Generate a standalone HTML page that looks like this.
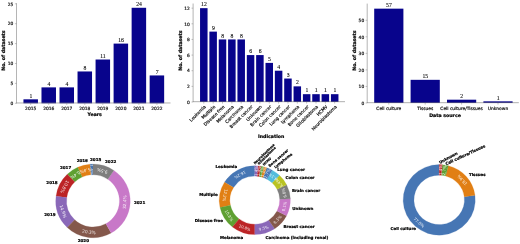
<!DOCTYPE html>
<html><head><meta charset="utf-8"><title>Figure</title>
<style>html,body{margin:0;padding:0;background:#fff}svg{display:block;will-change:transform}</style></head>
<body><svg width="520" height="244" viewBox="0 0 520 244">
<rect x="0" y="0" width="520" height="244" fill="#fff"/>
<g opacity="0.999">
<rect x="23.45" y="99.32" width="14.5" height="3.98" fill="#08048c"/>
<rect x="41.48" y="87.38" width="14.5" height="15.92" fill="#08048c"/>
<rect x="59.51" y="87.38" width="14.5" height="15.92" fill="#08048c"/>
<rect x="77.54" y="71.46" width="14.5" height="31.84" fill="#08048c"/>
<rect x="95.57" y="59.52" width="14.5" height="43.78" fill="#08048c"/>
<rect x="113.6" y="43.6" width="14.5" height="59.7" fill="#08048c"/>
<rect x="131.63" y="7.78" width="14.5" height="95.52" fill="#08048c"/>
<rect x="149.66" y="75.44" width="14.5" height="27.86" fill="#08048c"/>
<line x1="16.5" y1="3.2" x2="16.5" y2="103.3" stroke="#787878" stroke-width="0.55"/>
<line x1="16.23" y1="102.98" x2="170.5" y2="102.98" stroke="#787878" stroke-width="0.6"/>
<line x1="14.9" y1="103.3" x2="16.5" y2="103.3" stroke="#787878" stroke-width="0.45"/>
<text x="13.3" y="105.03" font-family="DejaVu Sans, Liberation Sans, sans-serif" font-size="4.4" text-anchor="end" fill="#222" stroke="#222" stroke-width="0.22">0</text>
<line x1="14.9" y1="83.4" x2="16.5" y2="83.4" stroke="#787878" stroke-width="0.45"/>
<text x="13.3" y="85.13" font-family="DejaVu Sans, Liberation Sans, sans-serif" font-size="4.4" text-anchor="end" fill="#222" stroke="#222" stroke-width="0.22">5</text>
<line x1="14.9" y1="63.5" x2="16.5" y2="63.5" stroke="#787878" stroke-width="0.45"/>
<text x="13.3" y="65.23" font-family="DejaVu Sans, Liberation Sans, sans-serif" font-size="4.4" text-anchor="end" fill="#222" stroke="#222" stroke-width="0.22">10</text>
<line x1="14.9" y1="43.6" x2="16.5" y2="43.6" stroke="#787878" stroke-width="0.45"/>
<text x="13.3" y="45.33" font-family="DejaVu Sans, Liberation Sans, sans-serif" font-size="4.4" text-anchor="end" fill="#222" stroke="#222" stroke-width="0.22">15</text>
<line x1="14.9" y1="23.7" x2="16.5" y2="23.7" stroke="#787878" stroke-width="0.45"/>
<text x="13.3" y="25.43" font-family="DejaVu Sans, Liberation Sans, sans-serif" font-size="4.4" text-anchor="end" fill="#222" stroke="#222" stroke-width="0.22">20</text>
<line x1="14.9" y1="3.8" x2="16.5" y2="3.8" stroke="#787878" stroke-width="0.45"/>
<text x="13.3" y="5.53" font-family="DejaVu Sans, Liberation Sans, sans-serif" font-size="4.4" text-anchor="end" fill="#222" stroke="#222" stroke-width="0.22">25</text>
<line x1="30.7" y1="103.3" x2="30.7" y2="104.9" stroke="#787878" stroke-width="0.45"/>
<line x1="48.73" y1="103.3" x2="48.73" y2="104.9" stroke="#787878" stroke-width="0.45"/>
<line x1="66.76" y1="103.3" x2="66.76" y2="104.9" stroke="#787878" stroke-width="0.45"/>
<line x1="84.79" y1="103.3" x2="84.79" y2="104.9" stroke="#787878" stroke-width="0.45"/>
<line x1="102.82" y1="103.3" x2="102.82" y2="104.9" stroke="#787878" stroke-width="0.45"/>
<line x1="120.85" y1="103.3" x2="120.85" y2="104.9" stroke="#787878" stroke-width="0.45"/>
<line x1="138.88" y1="103.3" x2="138.88" y2="104.9" stroke="#787878" stroke-width="0.45"/>
<line x1="156.91" y1="103.3" x2="156.91" y2="104.9" stroke="#787878" stroke-width="0.45"/>
<text x="30.85" y="97.92" font-family="Liberation Serif, DejaVu Serif, serif" font-size="5.7" text-anchor="middle" fill="#000" stroke="#000" stroke-width="0.09">1</text>
<text x="48.88" y="85.98" font-family="Liberation Serif, DejaVu Serif, serif" font-size="5.7" text-anchor="middle" fill="#000" stroke="#000" stroke-width="0.09">4</text>
<text x="66.91" y="85.98" font-family="Liberation Serif, DejaVu Serif, serif" font-size="5.7" text-anchor="middle" fill="#000" stroke="#000" stroke-width="0.09">4</text>
<text x="84.94" y="70.06" font-family="Liberation Serif, DejaVu Serif, serif" font-size="5.7" text-anchor="middle" fill="#000" stroke="#000" stroke-width="0.09">8</text>
<text x="102.97" y="58.12" font-family="Liberation Serif, DejaVu Serif, serif" font-size="5.7" text-anchor="middle" fill="#000" stroke="#000" stroke-width="0.09">11</text>
<text x="121" y="42.2" font-family="Liberation Serif, DejaVu Serif, serif" font-size="5.7" text-anchor="middle" fill="#000" stroke="#000" stroke-width="0.09">16</text>
<text x="139.03" y="6.38" font-family="Liberation Serif, DejaVu Serif, serif" font-size="5.7" text-anchor="middle" fill="#000" stroke="#000" stroke-width="0.09">24</text>
<text x="157.06" y="74.04" font-family="Liberation Serif, DejaVu Serif, serif" font-size="5.7" text-anchor="middle" fill="#000" stroke="#000" stroke-width="0.09">7</text>
<text x="30.7" y="109.7" font-family="DejaVu Sans, Liberation Sans, sans-serif" font-size="4.4" text-anchor="middle" fill="#222" stroke="#222" stroke-width="0.22">2015</text>
<text x="48.73" y="109.7" font-family="DejaVu Sans, Liberation Sans, sans-serif" font-size="4.4" text-anchor="middle" fill="#222" stroke="#222" stroke-width="0.22">2016</text>
<text x="66.76" y="109.7" font-family="DejaVu Sans, Liberation Sans, sans-serif" font-size="4.4" text-anchor="middle" fill="#222" stroke="#222" stroke-width="0.22">2017</text>
<text x="84.79" y="109.7" font-family="DejaVu Sans, Liberation Sans, sans-serif" font-size="4.4" text-anchor="middle" fill="#222" stroke="#222" stroke-width="0.22">2018</text>
<text x="102.82" y="109.7" font-family="DejaVu Sans, Liberation Sans, sans-serif" font-size="4.4" text-anchor="middle" fill="#222" stroke="#222" stroke-width="0.22">2019</text>
<text x="120.85" y="109.7" font-family="DejaVu Sans, Liberation Sans, sans-serif" font-size="4.4" text-anchor="middle" fill="#222" stroke="#222" stroke-width="0.22">2020</text>
<text x="138.88" y="109.7" font-family="DejaVu Sans, Liberation Sans, sans-serif" font-size="4.4" text-anchor="middle" fill="#222" stroke="#222" stroke-width="0.22">2021</text>
<text x="156.91" y="109.7" font-family="DejaVu Sans, Liberation Sans, sans-serif" font-size="4.4" text-anchor="middle" fill="#222" stroke="#222" stroke-width="0.22">2022</text>
<text x="94.7" y="115.8" font-family="DejaVu Sans, Liberation Sans, sans-serif" font-size="4.7" font-weight="bold" text-anchor="middle" fill="#000" stroke="#000" stroke-width="0.22">Years</text>
<text x="5.3" y="50.6" font-family="DejaVu Sans, Liberation Sans, sans-serif" font-size="4.7" font-weight="bold" text-anchor="middle" fill="#000" transform="rotate(-90 5.3 50.6)" stroke="#000" stroke-width="0.22">No. of datasets</text>
<rect x="200.05" y="8.16" width="7.5" height="93.84" fill="#08048c"/>
<rect x="209.4" y="31.62" width="7.5" height="70.38" fill="#08048c"/>
<rect x="218.75" y="39.44" width="7.5" height="62.56" fill="#08048c"/>
<rect x="228.1" y="39.44" width="7.5" height="62.56" fill="#08048c"/>
<rect x="237.45" y="39.44" width="7.5" height="62.56" fill="#08048c"/>
<rect x="246.8" y="55.08" width="7.5" height="46.92" fill="#08048c"/>
<rect x="256.15" y="55.08" width="7.5" height="46.92" fill="#08048c"/>
<rect x="265.5" y="62.9" width="7.5" height="39.1" fill="#08048c"/>
<rect x="274.85" y="70.72" width="7.5" height="31.28" fill="#08048c"/>
<rect x="284.2" y="78.54" width="7.5" height="23.46" fill="#08048c"/>
<rect x="293.55" y="86.36" width="7.5" height="15.64" fill="#08048c"/>
<rect x="302.9" y="94.18" width="7.5" height="7.82" fill="#08048c"/>
<rect x="312.25" y="94.18" width="7.5" height="7.82" fill="#08048c"/>
<rect x="321.6" y="94.18" width="7.5" height="7.82" fill="#08048c"/>
<rect x="330.95" y="94.18" width="7.5" height="7.82" fill="#08048c"/>
<line x1="193.1" y1="3.5" x2="193.1" y2="102" stroke="#787878" stroke-width="0.55"/>
<line x1="192.83" y1="101.68" x2="345" y2="101.68" stroke="#787878" stroke-width="0.6"/>
<line x1="191.5" y1="102" x2="193.1" y2="102" stroke="#787878" stroke-width="0.45"/>
<text x="189.8" y="103.73" font-family="DejaVu Sans, Liberation Sans, sans-serif" font-size="4.4" text-anchor="end" fill="#222" stroke="#222" stroke-width="0.22">0</text>
<line x1="191.5" y1="86.36" x2="193.1" y2="86.36" stroke="#787878" stroke-width="0.45"/>
<text x="189.8" y="88.09" font-family="DejaVu Sans, Liberation Sans, sans-serif" font-size="4.4" text-anchor="end" fill="#222" stroke="#222" stroke-width="0.22">2</text>
<line x1="191.5" y1="70.72" x2="193.1" y2="70.72" stroke="#787878" stroke-width="0.45"/>
<text x="189.8" y="72.45" font-family="DejaVu Sans, Liberation Sans, sans-serif" font-size="4.4" text-anchor="end" fill="#222" stroke="#222" stroke-width="0.22">4</text>
<line x1="191.5" y1="55.08" x2="193.1" y2="55.08" stroke="#787878" stroke-width="0.45"/>
<text x="189.8" y="56.81" font-family="DejaVu Sans, Liberation Sans, sans-serif" font-size="4.4" text-anchor="end" fill="#222" stroke="#222" stroke-width="0.22">6</text>
<line x1="191.5" y1="39.44" x2="193.1" y2="39.44" stroke="#787878" stroke-width="0.45"/>
<text x="189.8" y="41.17" font-family="DejaVu Sans, Liberation Sans, sans-serif" font-size="4.4" text-anchor="end" fill="#222" stroke="#222" stroke-width="0.22">8</text>
<line x1="191.5" y1="23.8" x2="193.1" y2="23.8" stroke="#787878" stroke-width="0.45"/>
<text x="189.8" y="25.53" font-family="DejaVu Sans, Liberation Sans, sans-serif" font-size="4.4" text-anchor="end" fill="#222" stroke="#222" stroke-width="0.22">10</text>
<line x1="191.5" y1="8.16" x2="193.1" y2="8.16" stroke="#787878" stroke-width="0.45"/>
<text x="189.8" y="9.89" font-family="DejaVu Sans, Liberation Sans, sans-serif" font-size="4.4" text-anchor="end" fill="#222" stroke="#222" stroke-width="0.22">12</text>
<line x1="203.8" y1="102" x2="203.8" y2="103.6" stroke="#787878" stroke-width="0.45"/>
<line x1="213.15" y1="102" x2="213.15" y2="103.6" stroke="#787878" stroke-width="0.45"/>
<line x1="222.5" y1="102" x2="222.5" y2="103.6" stroke="#787878" stroke-width="0.45"/>
<line x1="231.85" y1="102" x2="231.85" y2="103.6" stroke="#787878" stroke-width="0.45"/>
<line x1="241.2" y1="102" x2="241.2" y2="103.6" stroke="#787878" stroke-width="0.45"/>
<line x1="250.55" y1="102" x2="250.55" y2="103.6" stroke="#787878" stroke-width="0.45"/>
<line x1="259.9" y1="102" x2="259.9" y2="103.6" stroke="#787878" stroke-width="0.45"/>
<line x1="269.25" y1="102" x2="269.25" y2="103.6" stroke="#787878" stroke-width="0.45"/>
<line x1="278.6" y1="102" x2="278.6" y2="103.6" stroke="#787878" stroke-width="0.45"/>
<line x1="287.95" y1="102" x2="287.95" y2="103.6" stroke="#787878" stroke-width="0.45"/>
<line x1="297.3" y1="102" x2="297.3" y2="103.6" stroke="#787878" stroke-width="0.45"/>
<line x1="306.65" y1="102" x2="306.65" y2="103.6" stroke="#787878" stroke-width="0.45"/>
<line x1="316" y1="102" x2="316" y2="103.6" stroke="#787878" stroke-width="0.45"/>
<line x1="325.35" y1="102" x2="325.35" y2="103.6" stroke="#787878" stroke-width="0.45"/>
<line x1="334.7" y1="102" x2="334.7" y2="103.6" stroke="#787878" stroke-width="0.45"/>
<text x="203.95" y="6.26" font-family="Liberation Serif, DejaVu Serif, serif" font-size="5.7" text-anchor="middle" fill="#000" stroke="#000" stroke-width="0.09">12</text>
<text x="213.3" y="29.72" font-family="Liberation Serif, DejaVu Serif, serif" font-size="5.7" text-anchor="middle" fill="#000" stroke="#000" stroke-width="0.09">9</text>
<text x="222.65" y="37.54" font-family="Liberation Serif, DejaVu Serif, serif" font-size="5.7" text-anchor="middle" fill="#000" stroke="#000" stroke-width="0.09">8</text>
<text x="232" y="37.54" font-family="Liberation Serif, DejaVu Serif, serif" font-size="5.7" text-anchor="middle" fill="#000" stroke="#000" stroke-width="0.09">8</text>
<text x="241.35" y="37.54" font-family="Liberation Serif, DejaVu Serif, serif" font-size="5.7" text-anchor="middle" fill="#000" stroke="#000" stroke-width="0.09">8</text>
<text x="250.7" y="53.18" font-family="Liberation Serif, DejaVu Serif, serif" font-size="5.7" text-anchor="middle" fill="#000" stroke="#000" stroke-width="0.09">6</text>
<text x="260.05" y="53.18" font-family="Liberation Serif, DejaVu Serif, serif" font-size="5.7" text-anchor="middle" fill="#000" stroke="#000" stroke-width="0.09">6</text>
<text x="269.4" y="61" font-family="Liberation Serif, DejaVu Serif, serif" font-size="5.7" text-anchor="middle" fill="#000" stroke="#000" stroke-width="0.09">5</text>
<text x="278.75" y="68.82" font-family="Liberation Serif, DejaVu Serif, serif" font-size="5.7" text-anchor="middle" fill="#000" stroke="#000" stroke-width="0.09">4</text>
<text x="288.1" y="76.64" font-family="Liberation Serif, DejaVu Serif, serif" font-size="5.7" text-anchor="middle" fill="#000" stroke="#000" stroke-width="0.09">3</text>
<text x="297.45" y="84.46" font-family="Liberation Serif, DejaVu Serif, serif" font-size="5.7" text-anchor="middle" fill="#000" stroke="#000" stroke-width="0.09">2</text>
<text x="306.8" y="92.28" font-family="Liberation Serif, DejaVu Serif, serif" font-size="5.7" text-anchor="middle" fill="#000" stroke="#000" stroke-width="0.09">1</text>
<text x="316.15" y="92.28" font-family="Liberation Serif, DejaVu Serif, serif" font-size="5.7" text-anchor="middle" fill="#000" stroke="#000" stroke-width="0.09">1</text>
<text x="325.5" y="92.28" font-family="Liberation Serif, DejaVu Serif, serif" font-size="5.7" text-anchor="middle" fill="#000" stroke="#000" stroke-width="0.09">1</text>
<text x="334.85" y="92.28" font-family="Liberation Serif, DejaVu Serif, serif" font-size="5.7" text-anchor="middle" fill="#000" stroke="#000" stroke-width="0.09">1</text>
<g transform="translate(203.8 104.6) rotate(-45)"><text x="0" y="3.43" font-family="DejaVu Sans, Liberation Sans, sans-serif" font-size="4.4" text-anchor="end" fill="#222" stroke="#222" stroke-width="0.22">Leukemia</text></g>
<g transform="translate(213.15 104.6) rotate(-45)"><text x="0" y="3.43" font-family="DejaVu Sans, Liberation Sans, sans-serif" font-size="4.4" text-anchor="end" fill="#222" stroke="#222" stroke-width="0.22">Multiple</text></g>
<g transform="translate(222.5 104.6) rotate(-45)"><text x="0" y="3.43" font-family="DejaVu Sans, Liberation Sans, sans-serif" font-size="4.4" text-anchor="end" fill="#222" stroke="#222" stroke-width="0.22">Disease free</text></g>
<g transform="translate(231.85 104.6) rotate(-45)"><text x="0" y="3.43" font-family="DejaVu Sans, Liberation Sans, sans-serif" font-size="4.4" text-anchor="end" fill="#222" stroke="#222" stroke-width="0.22">Melanoma</text></g>
<g transform="translate(241.2 104.6) rotate(-45)"><text x="0" y="3.43" font-family="DejaVu Sans, Liberation Sans, sans-serif" font-size="4.4" text-anchor="end" fill="#222" stroke="#222" stroke-width="0.22">Carcinoma</text></g>
<g transform="translate(250.55 104.6) rotate(-45)"><text x="0" y="3.43" font-family="DejaVu Sans, Liberation Sans, sans-serif" font-size="4.4" text-anchor="end" fill="#222" stroke="#222" stroke-width="0.22">Breast cancer</text></g>
<g transform="translate(259.9 104.6) rotate(-45)"><text x="0" y="3.43" font-family="DejaVu Sans, Liberation Sans, sans-serif" font-size="4.4" text-anchor="end" fill="#222" stroke="#222" stroke-width="0.22">Unknown</text></g>
<g transform="translate(269.25 104.6) rotate(-45)"><text x="0" y="3.43" font-family="DejaVu Sans, Liberation Sans, sans-serif" font-size="4.4" text-anchor="end" fill="#222" stroke="#222" stroke-width="0.22">Brain cancer</text></g>
<g transform="translate(278.6 104.6) rotate(-45)"><text x="0" y="3.43" font-family="DejaVu Sans, Liberation Sans, sans-serif" font-size="4.4" text-anchor="end" fill="#222" stroke="#222" stroke-width="0.22">Colon cancer</text></g>
<g transform="translate(287.95 104.6) rotate(-45)"><text x="0" y="3.43" font-family="DejaVu Sans, Liberation Sans, sans-serif" font-size="4.4" text-anchor="end" fill="#222" stroke="#222" stroke-width="0.22">Lung cancer</text></g>
<g transform="translate(297.3 104.6) rotate(-45)"><text x="0" y="3.43" font-family="DejaVu Sans, Liberation Sans, sans-serif" font-size="4.4" text-anchor="end" fill="#222" stroke="#222" stroke-width="0.22">Lymphoma</text></g>
<g transform="translate(306.65 104.6) rotate(-45)"><text x="0" y="3.43" font-family="DejaVu Sans, Liberation Sans, sans-serif" font-size="4.4" text-anchor="end" fill="#222" stroke="#222" stroke-width="0.22">Bone cancer</text></g>
<g transform="translate(316 104.6) rotate(-45)"><text x="0" y="3.43" font-family="DejaVu Sans, Liberation Sans, sans-serif" font-size="4.4" text-anchor="end" fill="#222" stroke="#222" stroke-width="0.22">Glioblastoma</text></g>
<g transform="translate(325.35 104.6) rotate(-45)"><text x="0" y="3.43" font-family="DejaVu Sans, Liberation Sans, sans-serif" font-size="4.4" text-anchor="end" fill="#222" stroke="#222" stroke-width="0.22">HCMV</text></g>
<g transform="translate(334.7 104.6) rotate(-45)"><text x="0" y="3.43" font-family="DejaVu Sans, Liberation Sans, sans-serif" font-size="4.4" text-anchor="end" fill="#222" stroke="#222" stroke-width="0.22">Neuroblastoma</text></g>
<text x="271.2" y="137.6" font-family="DejaVu Sans, Liberation Sans, sans-serif" font-size="4.7" font-weight="bold" text-anchor="middle" fill="#000" stroke="#000" stroke-width="0.22">Indication</text>
<text x="182.4" y="50.6" font-family="DejaVu Sans, Liberation Sans, sans-serif" font-size="4.7" font-weight="bold" text-anchor="middle" fill="#000" transform="rotate(-90 182.4 50.6)" stroke="#000" stroke-width="0.22">No. of datasets</text>
<rect x="374.2" y="8.66" width="29.2" height="94.34" fill="#08048c"/>
<rect x="410.6" y="79.83" width="29.2" height="23.17" fill="#08048c"/>
<rect x="447" y="99.69" width="29.2" height="3.31" fill="#08048c"/>
<rect x="483.4" y="101.34" width="29.2" height="1.66" fill="#08048c"/>
<line x1="367.2" y1="3.6" x2="367.2" y2="103" stroke="#787878" stroke-width="0.55"/>
<line x1="366.93" y1="102.68" x2="518.8" y2="102.68" stroke="#787878" stroke-width="0.6"/>
<line x1="365.6" y1="103" x2="367.2" y2="103" stroke="#787878" stroke-width="0.45"/>
<text x="364.2" y="104.73" font-family="DejaVu Sans, Liberation Sans, sans-serif" font-size="4.4" text-anchor="end" fill="#222" stroke="#222" stroke-width="0.22">0</text>
<line x1="365.6" y1="86.45" x2="367.2" y2="86.45" stroke="#787878" stroke-width="0.45"/>
<text x="364.2" y="88.18" font-family="DejaVu Sans, Liberation Sans, sans-serif" font-size="4.4" text-anchor="end" fill="#222" stroke="#222" stroke-width="0.22">10</text>
<line x1="365.6" y1="69.9" x2="367.2" y2="69.9" stroke="#787878" stroke-width="0.45"/>
<text x="364.2" y="71.63" font-family="DejaVu Sans, Liberation Sans, sans-serif" font-size="4.4" text-anchor="end" fill="#222" stroke="#222" stroke-width="0.22">20</text>
<line x1="365.6" y1="53.35" x2="367.2" y2="53.35" stroke="#787878" stroke-width="0.45"/>
<text x="364.2" y="55.08" font-family="DejaVu Sans, Liberation Sans, sans-serif" font-size="4.4" text-anchor="end" fill="#222" stroke="#222" stroke-width="0.22">30</text>
<line x1="365.6" y1="36.8" x2="367.2" y2="36.8" stroke="#787878" stroke-width="0.45"/>
<text x="364.2" y="38.53" font-family="DejaVu Sans, Liberation Sans, sans-serif" font-size="4.4" text-anchor="end" fill="#222" stroke="#222" stroke-width="0.22">40</text>
<line x1="365.6" y1="20.25" x2="367.2" y2="20.25" stroke="#787878" stroke-width="0.45"/>
<text x="364.2" y="21.98" font-family="DejaVu Sans, Liberation Sans, sans-serif" font-size="4.4" text-anchor="end" fill="#222" stroke="#222" stroke-width="0.22">50</text>
<line x1="388.8" y1="103" x2="388.8" y2="104.6" stroke="#787878" stroke-width="0.45"/>
<line x1="425.2" y1="103" x2="425.2" y2="104.6" stroke="#787878" stroke-width="0.45"/>
<line x1="461.6" y1="103" x2="461.6" y2="104.6" stroke="#787878" stroke-width="0.45"/>
<line x1="498" y1="103" x2="498" y2="104.6" stroke="#787878" stroke-width="0.45"/>
<text x="388.95" y="7.16" font-family="Liberation Serif, DejaVu Serif, serif" font-size="5.7" text-anchor="middle" fill="#000" stroke="#000" stroke-width="0.09">57</text>
<text x="425.35" y="78.33" font-family="Liberation Serif, DejaVu Serif, serif" font-size="5.7" text-anchor="middle" fill="#000" stroke="#000" stroke-width="0.09">15</text>
<text x="461.75" y="98.19" font-family="Liberation Serif, DejaVu Serif, serif" font-size="5.7" text-anchor="middle" fill="#000" stroke="#000" stroke-width="0.09">2</text>
<text x="498.15" y="99.84" font-family="Liberation Serif, DejaVu Serif, serif" font-size="5.7" text-anchor="middle" fill="#000" stroke="#000" stroke-width="0.09">1</text>
<text x="388.8" y="109.6" font-family="DejaVu Sans, Liberation Sans, sans-serif" font-size="4.4" text-anchor="middle" fill="#222" stroke="#222" stroke-width="0.22">Cell culture</text>
<text x="425.2" y="109.6" font-family="DejaVu Sans, Liberation Sans, sans-serif" font-size="4.4" text-anchor="middle" fill="#222" stroke="#222" stroke-width="0.22">Tissues</text>
<text x="461.6" y="109.6" font-family="DejaVu Sans, Liberation Sans, sans-serif" font-size="4.4" text-anchor="middle" fill="#222" stroke="#222" stroke-width="0.22">Cell culture/Tissues</text>
<text x="498" y="109.6" font-family="DejaVu Sans, Liberation Sans, sans-serif" font-size="4.4" text-anchor="middle" fill="#222" stroke="#222" stroke-width="0.22">Unknown</text>
<text x="445" y="116.7" font-family="DejaVu Sans, Liberation Sans, sans-serif" font-size="4.7" font-weight="bold" text-anchor="middle" fill="#000" stroke="#000" stroke-width="0.22">Data source</text>
<text x="355.8" y="50.6" font-family="DejaVu Sans, Liberation Sans, sans-serif" font-size="4.7" font-weight="bold" text-anchor="middle" fill="#000" transform="rotate(-90 355.8 50.6)" stroke="#000" stroke-width="0.22">No. of datasets</text>
<path d="M93 164.1A37.25 36.8 0 0 0 89.84 164.23L90.76 174.87A26.45 26.13 0 0 1 93 174.77Z" fill="#4676b4" stroke="#4676b4" stroke-width="0.2"/>
<g transform="translate(91.66 169.65) rotate(87.57)"><text x="0" y="1.55" font-family="DejaVu Sans, Liberation Sans, sans-serif" font-size="4.3" text-anchor="middle" fill="#fff" fill-opacity="0.88">1.4%</text></g>
<g transform="translate(90 160.8) rotate(0)"><text x="0" y="0" font-family="DejaVu Sans, Liberation Sans, sans-serif" font-size="4.05" font-weight="bold" text-anchor="start" fill="#000" stroke="#000" stroke-width="0.22">2015</text></g>
<path d="M89.84 164.23A37.25 36.8 0 0 0 77.66 167.37L82.11 177.09A26.45 26.13 0 0 1 90.76 174.87Z" fill="#e17f14" stroke="#e17f14" stroke-width="0.2"/>
<g transform="translate(85.02 170.63) rotate(-194.59)"><text x="0" y="1.55" font-family="DejaVu Sans, Liberation Sans, sans-serif" font-size="4.3" text-anchor="middle" fill="#fff" fill-opacity="0.88">5.4%</text></g>
<g transform="translate(87.9 161.7) rotate(0)"><text x="0" y="0" font-family="DejaVu Sans, Liberation Sans, sans-serif" font-size="4.05" font-weight="bold" text-anchor="end" fill="#000" stroke="#000" stroke-width="0.22">2016</text></g>
<path d="M77.66 167.37A37.25 36.8 0 0 0 67.23 174.33L74.7 182.04A26.45 26.13 0 0 1 82.11 177.09Z" fill="#5fa032" stroke="#5fa032" stroke-width="0.2"/>
<g transform="translate(75.27 174.98) rotate(-214.05)"><text x="0" y="1.55" font-family="DejaVu Sans, Liberation Sans, sans-serif" font-size="4.3" text-anchor="middle" fill="#fff" fill-opacity="0.88">5.4%</text></g>
<text x="71.26" y="168.57" font-family="DejaVu Sans, Liberation Sans, sans-serif" font-size="4.05" font-weight="bold" text-anchor="end" fill="#000" stroke="#000" stroke-width="0.22">2017</text>
<path d="M67.23 174.33A37.25 36.8 0 0 0 56.05 196.23L66.77 197.58A26.45 26.13 0 0 1 74.7 182.04Z" fill="#bc2426" stroke="#bc2426" stroke-width="0.2"/>
<g transform="translate(64.73 186.82) rotate(-243.24)"><text x="0" y="1.55" font-family="DejaVu Sans, Liberation Sans, sans-serif" font-size="4.3" text-anchor="middle" fill="#fff" fill-opacity="0.88">10.8%</text></g>
<text x="57.61" y="183.88" font-family="DejaVu Sans, Liberation Sans, sans-serif" font-size="4.05" font-weight="bold" text-anchor="end" fill="#000" stroke="#000" stroke-width="0.22">2018</text>
<path d="M56.05 196.23A37.25 36.8 0 0 0 67.23 227.47L74.7 219.76A26.45 26.13 0 0 1 66.77 197.58Z" fill="#8a68b8" stroke="#8a68b8" stroke-width="0.2"/>
<g transform="translate(63.15 211.32) rotate(-289.46)"><text x="0" y="1.55" font-family="DejaVu Sans, Liberation Sans, sans-serif" font-size="4.3" text-anchor="middle" fill="#fff" fill-opacity="0.88">14.9%</text></g>
<text x="55.57" y="215.59" font-family="DejaVu Sans, Liberation Sans, sans-serif" font-size="4.05" font-weight="bold" text-anchor="end" fill="#000" stroke="#000" stroke-width="0.22">2019</text>
<path d="M67.23 227.47A37.25 36.8 0 0 0 111.17 233.03L105.9 223.71A26.45 26.13 0 0 1 74.7 219.76Z" fill="#84584b" stroke="#84584b" stroke-width="0.2"/>
<g transform="translate(88.98 231.93) rotate(-352.7)"><text x="0" y="1.55" font-family="DejaVu Sans, Liberation Sans, sans-serif" font-size="4.3" text-anchor="middle" fill="#fff" fill-opacity="0.88">20.3%</text></g>
<text x="89" y="242.26" font-family="DejaVu Sans, Liberation Sans, sans-serif" font-size="4.05" font-weight="bold" text-anchor="end" fill="#000" stroke="#000" stroke-width="0.22">2020</text>
<path d="M111.17 233.03A37.25 36.8 0 0 0 113.86 170.41L107.81 179.25A26.45 26.13 0 0 1 105.9 223.71Z" fill="#c878c8" stroke="#c878c8" stroke-width="0.2"/>
<g transform="translate(124.63 202.23) rotate(-447.57)"><text x="0" y="1.55" font-family="DejaVu Sans, Liberation Sans, sans-serif" font-size="4.3" text-anchor="middle" fill="#fff" fill-opacity="0.88">32.4%</text></g>
<text x="133.94" y="203.83" font-family="DejaVu Sans, Liberation Sans, sans-serif" font-size="4.05" font-weight="bold" text-anchor="start" fill="#000" stroke="#000" stroke-width="0.22">2021</text>
<path d="M113.86 170.41A37.25 36.8 0 0 0 93 164.1L93 174.77A26.45 26.13 0 0 1 107.81 179.25Z" fill="#7e7e7e" stroke="#7e7e7e" stroke-width="0.2"/>
<g transform="translate(102.27 170.99) rotate(-522.97)"><text x="0" y="1.55" font-family="DejaVu Sans, Liberation Sans, sans-serif" font-size="4.3" text-anchor="middle" fill="#fff" fill-opacity="0.88">9.5%</text></g>
<text x="105" y="163.4" font-family="DejaVu Sans, Liberation Sans, sans-serif" font-size="4.05" font-weight="bold" text-anchor="start" fill="#000" stroke="#000" stroke-width="0.22">2022</text>
<path d="M254.8 165.8A35.6 34.4 0 0 0 224.49 182.16L233.58 187.57A24.92 24.08 0 0 1 254.8 176.12Z" fill="#4676b4" stroke="#4676b4" stroke-width="0.2"/>
<g transform="translate(240.04 174.67) rotate(-209.19)"><text x="0" y="1.4" font-family="DejaVu Sans, Liberation Sans, sans-serif" font-size="3.9" text-anchor="middle" fill="#fff" fill-opacity="0.88">16.2%</text></g>
<text x="237.2" y="168.16" font-family="DejaVu Sans, Liberation Sans, sans-serif" font-size="4.02" font-weight="bold" text-anchor="end" fill="#000" stroke="#000" stroke-width="0.22">Leukemia</text>
<path d="M224.49 182.16A35.6 34.4 0 0 0 220 207.45L230.44 205.27A24.92 24.08 0 0 1 233.58 187.57Z" fill="#e17f14" stroke="#e17f14" stroke-width="0.2"/>
<g transform="translate(224.98 195.26) rotate(-260.27)"><text x="0" y="1.4" font-family="DejaVu Sans, Liberation Sans, sans-serif" font-size="3.9" text-anchor="middle" fill="#fff" fill-opacity="0.88">12.2%</text></g>
<text x="217.7" y="195.53" font-family="DejaVu Sans, Liberation Sans, sans-serif" font-size="4.02" font-weight="bold" text-anchor="end" fill="#000" stroke="#000" stroke-width="0.22">Multiple</text>
<path d="M220 207.45A35.6 34.4 0 0 0 232.44 226.96L239.14 218.94A24.92 24.08 0 0 1 230.44 205.27Z" fill="#5fa032" stroke="#5fa032" stroke-width="0.2"/>
<g transform="translate(229.03 215.53) rotate(-301.62)"><text x="0" y="1.4" font-family="DejaVu Sans, Liberation Sans, sans-serif" font-size="3.9" text-anchor="middle" fill="#fff" fill-opacity="0.88">10.8%</text></g>
<text x="222.95" y="222.48" font-family="DejaVu Sans, Liberation Sans, sans-serif" font-size="4.02" font-weight="bold" text-anchor="end" fill="#000" stroke="#000" stroke-width="0.22">Disease free</text>
<path d="M232.44 226.96A35.6 34.4 0 0 0 254.8 234.6L254.8 224.28A24.92 24.08 0 0 1 239.14 218.94Z" fill="#bc2426" stroke="#bc2426" stroke-width="0.2"/>
<g transform="translate(244.72 227.77) rotate(-340.54)"><text x="0" y="1.4" font-family="DejaVu Sans, Liberation Sans, sans-serif" font-size="3.9" text-anchor="middle" fill="#fff" fill-opacity="0.88">10.8%</text></g>
<text x="243.25" y="238.75" font-family="DejaVu Sans, Liberation Sans, sans-serif" font-size="4.02" font-weight="bold" text-anchor="end" fill="#000" stroke="#000" stroke-width="0.22">Melanoma</text>
<path d="M254.8 234.6A35.6 34.4 0 0 0 274.74 228.7L268.75 220.15A24.92 24.08 0 0 1 254.8 224.28Z" fill="#8a68b8" stroke="#8a68b8" stroke-width="0.2"/>
<g transform="translate(263.66 228.16) rotate(-377.03)"><text x="0" y="1.4" font-family="DejaVu Sans, Liberation Sans, sans-serif" font-size="3.9" text-anchor="middle" fill="#fff" fill-opacity="0.88">9.5%</text></g>
<text x="265.47" y="239.27" font-family="DejaVu Sans, Liberation Sans, sans-serif" font-size="4.02" font-weight="bold" text-anchor="start" fill="#000" stroke="#000" stroke-width="0.22">Carcinoma (including renal)</text>
<path d="M274.74 228.7A35.6 34.4 0 0 0 286.59 215.69L277.05 211.04A24.92 24.08 0 0 1 268.75 220.15Z" fill="#84584b" stroke="#84584b" stroke-width="0.2"/>
<g transform="translate(277.52 219.52) rotate(-408.65)"><text x="0" y="1.4" font-family="DejaVu Sans, Liberation Sans, sans-serif" font-size="3.9" text-anchor="middle" fill="#fff" fill-opacity="0.88">8.1%</text></g>
<text x="283.4" y="227.78" font-family="DejaVu Sans, Liberation Sans, sans-serif" font-size="4.02" font-weight="bold" text-anchor="start" fill="#000" stroke="#000" stroke-width="0.22">Breast cancer</text>
<path d="M286.59 215.69A35.6 34.4 0 0 0 290.37 198.74L279.7 199.18A24.92 24.08 0 0 1 277.05 211.04Z" fill="#c878c8" stroke="#c878c8" stroke-width="0.2"/>
<g transform="translate(284.38 206.36) rotate(-437.84)"><text x="0" y="1.4" font-family="DejaVu Sans, Liberation Sans, sans-serif" font-size="3.9" text-anchor="middle" fill="#fff" fill-opacity="0.88">8.1%</text></g>
<text x="292.28" y="210.29" font-family="DejaVu Sans, Liberation Sans, sans-serif" font-size="4.02" font-weight="bold" text-anchor="start" fill="#000" stroke="#000" stroke-width="0.22">Unknown</text>
<path d="M290.37 198.74A35.6 34.4 0 0 0 286.59 184.71L277.05 189.36A24.92 24.08 0 0 1 279.7 199.18Z" fill="#7e7e7e" stroke="#7e7e7e" stroke-width="0.2"/>
<g transform="translate(284.08 192.83) rotate(-464.59)"><text x="0" y="1.4" font-family="DejaVu Sans, Liberation Sans, sans-serif" font-size="3.9" text-anchor="middle" fill="#fff" fill-opacity="0.88">6.8%</text></g>
<text x="291.9" y="192.3" font-family="DejaVu Sans, Liberation Sans, sans-serif" font-size="4.02" font-weight="bold" text-anchor="start" fill="#000" stroke="#000" stroke-width="0.22">Brain cancer</text>
<path d="M286.59 184.71A35.6 34.4 0 0 0 279.43 175.36L272.04 182.82A24.92 24.08 0 0 1 277.05 189.36Z" fill="#b9c323" stroke="#b9c323" stroke-width="0.2"/>
<g transform="translate(279.13 182.81) rotate(-486.49)"><text x="0" y="1.4" font-family="DejaVu Sans, Liberation Sans, sans-serif" font-size="3.9" text-anchor="middle" fill="#fff" fill-opacity="0.88">5.4%</text></g>
<text x="285.48" y="178.98" font-family="DejaVu Sans, Liberation Sans, sans-serif" font-size="4.02" font-weight="bold" text-anchor="start" fill="#000" stroke="#000" stroke-width="0.22">Colon cancer</text>
<path d="M279.43 175.36A35.6 34.4 0 0 0 272.16 170.17L266.95 179.18A24.92 24.08 0 0 1 272.04 182.82Z" fill="#52bcdc" stroke="#52bcdc" stroke-width="0.2"/>
<g transform="translate(272.79 176.69) rotate(-503.51)"><text x="0" y="1.4" font-family="DejaVu Sans, Liberation Sans, sans-serif" font-size="3.9" text-anchor="middle" fill="#fff" fill-opacity="0.88">4.1%</text></g>
<text x="277.29" y="170.84" font-family="DejaVu Sans, Liberation Sans, sans-serif" font-size="4.02" font-weight="bold" text-anchor="start" fill="#000" stroke="#000" stroke-width="0.22">Lung cancer</text>
<path d="M272.16 170.17A35.6 34.4 0 0 0 266.66 167.77L263.1 177.5A24.92 24.08 0 0 1 266.95 179.18Z" fill="#4676b4" stroke="#4676b4" stroke-width="0.2"/>
<g transform="translate(267.26 173.56) rotate(-425.68)"><text x="0" y="1.4" font-family="DejaVu Sans, Liberation Sans, sans-serif" font-size="3.9" text-anchor="middle" fill="#fff" fill-opacity="0.88">2.7%</text></g>
<g transform="translate(275.4 168.6) rotate(-39)"><text x="0" y="0" font-family="DejaVu Sans, Liberation Sans, sans-serif" font-size="3.65" font-weight="bold" text-anchor="start" fill="#000" stroke="#000" stroke-width="0.22">Lymphoma</text></g>
<path d="M266.66 167.77A35.6 34.4 0 0 0 263.77 166.91L261.08 176.9A24.92 24.08 0 0 1 263.1 177.5Z" fill="#e17f14" stroke="#e17f14" stroke-width="0.2"/>
<g transform="translate(263.66 172.24) rotate(-432.97)"><text x="0" y="1.4" font-family="DejaVu Sans, Liberation Sans, sans-serif" font-size="3.9" text-anchor="middle" fill="#fff" fill-opacity="0.88">1.4%</text></g>
<g transform="translate(269.8 167.2) rotate(-41)"><text x="0" y="0" font-family="DejaVu Sans, Liberation Sans, sans-serif" font-size="3.6" font-weight="bold" text-anchor="start" fill="#000" stroke="#000" stroke-width="0.22">Bone cancer</text></g>
<path d="M263.77 166.91A35.6 34.4 0 0 0 260.82 166.29L259.01 176.47A24.92 24.08 0 0 1 261.08 176.9Z" fill="#5fa032" stroke="#5fa032" stroke-width="0.2"/>
<g transform="translate(261.18 171.62) rotate(-437.84)"><text x="0" y="1.4" font-family="DejaVu Sans, Liberation Sans, sans-serif" font-size="3.9" text-anchor="middle" fill="#fff" fill-opacity="0.88">1.4%</text></g>
<g transform="translate(259 165) rotate(-45)"><text x="0" y="0" font-family="DejaVu Sans, Liberation Sans, sans-serif" font-size="3.25" font-weight="bold" text-anchor="start" fill="#000" stroke="#000" stroke-width="0.22">Glioblastoma</text></g>
<path d="M260.82 166.29A35.6 34.4 0 0 0 257.82 165.92L256.91 176.21A24.92 24.08 0 0 1 259.01 176.47Z" fill="#bc2426" stroke="#bc2426" stroke-width="0.2"/>
<g transform="translate(258.64 171.2) rotate(-442.7)"><text x="0" y="1.4" font-family="DejaVu Sans, Liberation Sans, sans-serif" font-size="3.9" text-anchor="middle" fill="#fff" fill-opacity="0.88">1.4%</text></g>
<g transform="translate(263.9 165.8) rotate(-42.5)"><text x="0" y="0" font-family="DejaVu Sans, Liberation Sans, sans-serif" font-size="3.1" font-weight="bold" text-anchor="start" fill="#000" stroke="#000" stroke-width="0.22">HCMV</text></g>
<path d="M257.82 165.92A35.6 34.4 0 0 0 254.8 165.8L254.8 176.12A24.92 24.08 0 0 1 256.91 176.21Z" fill="#8a68b8" stroke="#8a68b8" stroke-width="0.2"/>
<g transform="translate(256.08 170.99) rotate(-447.57)"><text x="0" y="1.4" font-family="DejaVu Sans, Liberation Sans, sans-serif" font-size="3.9" text-anchor="middle" fill="#fff" fill-opacity="0.88">1.4%</text></g>
<g transform="translate(254.9 164.6) rotate(-44.5)"><text x="0" y="0" font-family="DejaVu Sans, Liberation Sans, sans-serif" font-size="3.25" font-weight="bold" text-anchor="start" fill="#000" stroke="#000" stroke-width="0.22">Neuroblastoma</text></g>
<path d="M439.2 164.55A36.1 35.3 0 1 0 475.01 195.37L464.27 196.71A25.27 24.71 0 1 1 439.2 175.14Z" fill="#4676b4" stroke="#4676b4" stroke-width="0.2"/>
<g transform="translate(418.93 222.37) rotate(-318.65)"><text x="0" y="1.44" font-family="DejaVu Sans, Liberation Sans, sans-serif" font-size="4.0" text-anchor="middle" fill="#fff" fill-opacity="0.88">77.0%</text></g>
<g transform="translate(416 229.8) rotate(0)"><text x="0" y="0" font-family="DejaVu Sans, Liberation Sans, sans-serif" font-size="3.95" font-weight="bold" text-anchor="end" fill="#000" stroke="#000" stroke-width="0.22">Cell culture</text></g>
<path d="M475.01 195.37A36.1 35.3 0 0 0 448.3 165.69L445.57 175.94A25.27 24.71 0 0 1 464.27 196.71Z" fill="#e17f14" stroke="#e17f14" stroke-width="0.2"/>
<g transform="translate(462.23 180.03) rotate(-491.35)"><text x="0" y="1.44" font-family="DejaVu Sans, Liberation Sans, sans-serif" font-size="4.0" text-anchor="middle" fill="#fff" fill-opacity="0.88">18.9%</text></g>
<text x="469.01" y="175.62" font-family="DejaVu Sans, Liberation Sans, sans-serif" font-size="3.95" font-weight="bold" text-anchor="start" fill="#000" stroke="#000" stroke-width="0.22">Tissues</text>
<path d="M448.3 165.69A36.1 35.3 0 0 0 442.26 164.68L441.34 175.23A25.27 24.71 0 0 1 445.57 175.94Z" fill="#5fa032" stroke="#5fa032" stroke-width="0.2"/>
<g transform="translate(444.39 170.28) rotate(-440.27)"><text x="0" y="1.44" font-family="DejaVu Sans, Liberation Sans, sans-serif" font-size="4.0" text-anchor="middle" fill="#fff" fill-opacity="0.88">2.7%</text></g>
<g transform="translate(446.3 165.3) rotate(-25)"><text x="0" y="0" font-family="DejaVu Sans, Liberation Sans, sans-serif" font-size="3.95" font-weight="bold" text-anchor="start" fill="#000" stroke="#000" stroke-width="0.22">Cell culture/Tissues</text></g>
<path d="M442.26 164.68A36.1 35.3 0 0 0 439.2 164.55L439.2 175.14A25.27 24.71 0 0 1 441.34 175.23Z" fill="#bc2426" stroke="#bc2426" stroke-width="0.2"/>
<g transform="translate(440.5 169.87) rotate(-447.57)"><text x="0" y="1.44" font-family="DejaVu Sans, Liberation Sans, sans-serif" font-size="4.0" text-anchor="middle" fill="#fff" fill-opacity="0.88">1.4%</text></g>
<g transform="translate(440 164) rotate(-29)"><text x="0" y="0" font-family="DejaVu Sans, Liberation Sans, sans-serif" font-size="3.95" font-weight="bold" text-anchor="start" fill="#000" stroke="#000" stroke-width="0.22">Unknown</text></g>
</g>
</svg></body></html>
